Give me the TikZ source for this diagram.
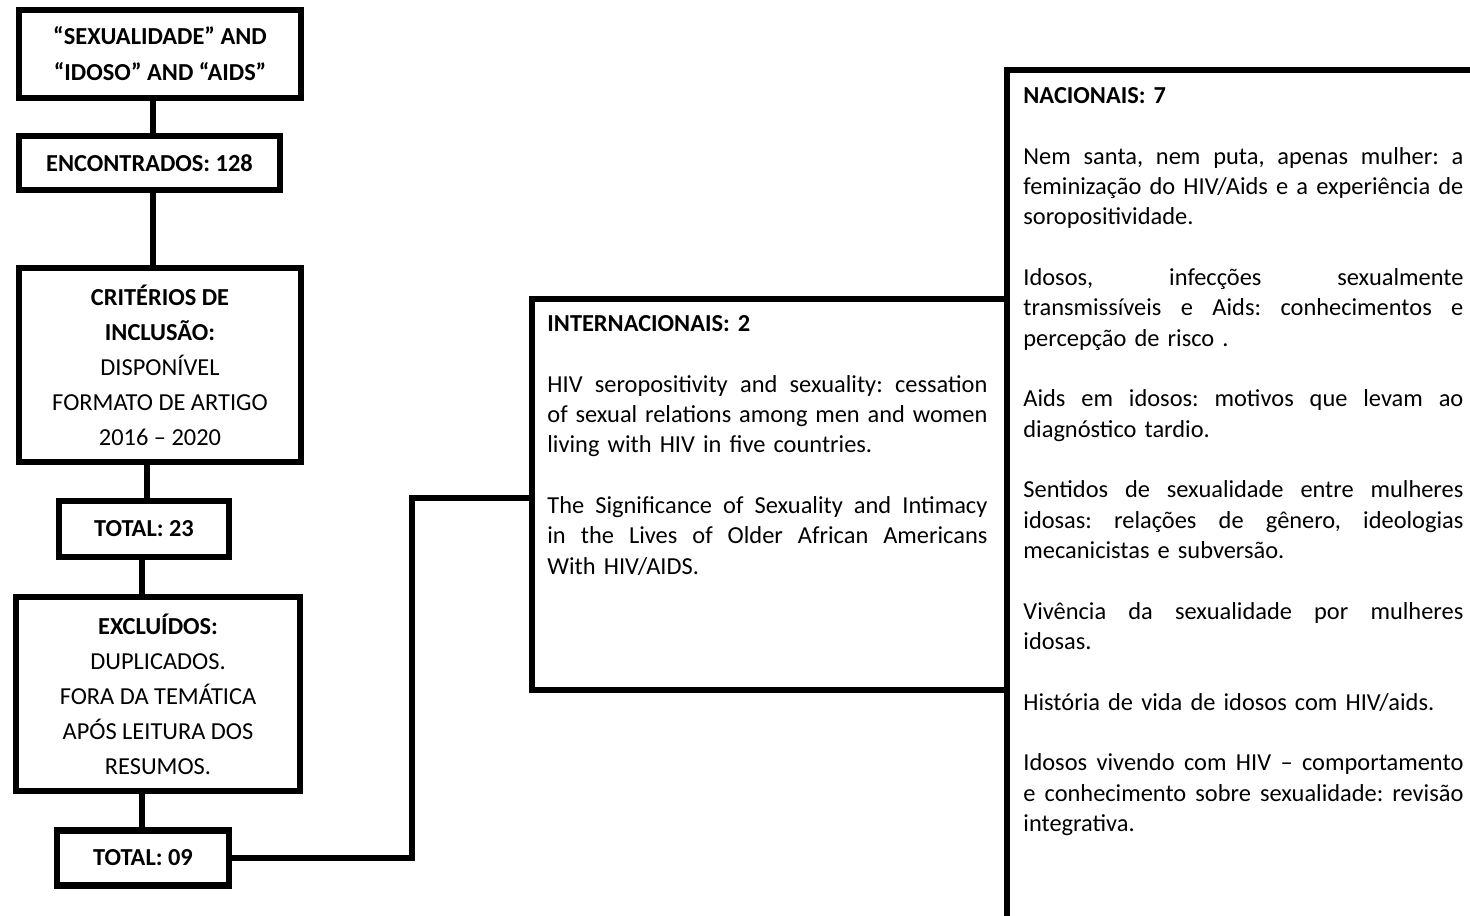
\documentclass[tikz,border=0pt]{standalone}
\usepackage{fontspec}
\setmainfont{Carlito}
\frenchspacing
\newcommand{\jline}[1]{\leavevmode\hbox to 220pt{\spaceskip=\fontdimen2\font plus 1fil\relax #1}}
\begin{document}
\begin{tikzpicture}[x=0.5pt,y=-0.5pt,
  boxline/.style={line width=3.2pt},
  flowbox/.style={draw,boxline,align=center,inner sep=0pt,
    font=\fontsize{12.2}{17.5}\selectfont},
  bigbox/.style={draw,boxline,anchor=north west,inner sep=0pt},
  bodytext/.style={anchor=north west,inner sep=0pt,text width=220pt,align=left,
    font=\fontsize{12.2}{15.17}\selectfont},
  conn/.style={boxline}]
\useasboundingbox (0,0) rectangle (1470,915);

\node[flowbox,minimum width=141.25pt,minimum height=44pt,
  font=\fontsize{12.2}{18}\selectfont] (b1) at (160,54)
  {\bfseries “SEXUALIDADE” AND\\\bfseries “IDOSO” AND “AIDS”};
\node[flowbox,minimum width=130.5pt,minimum height=26.75pt] (b2) at (149.5,163)
  {\bfseries ENCONTRADOS: 128};
\node[flowbox,minimum width=141.25pt,minimum height=96.75pt] (b3) at (160,365)
  {\bfseries CRITÉRIOS DE\\\bfseries INCLUSÃO:\\DISPONÍVEL\\FORMATO DE ARTIGO\\2016 – 2020};
\node[flowbox,minimum width=85pt,minimum height=28pt] (b4) at (144,529)
  {\bfseries TOTAL: 23};
\node[flowbox,minimum width=142pt,minimum height=97pt] (b5) at (158,694)
  {\bfseries EXCLUÍDOS:\\DUPLICADOS.\\FORA DA TEMÁTICA\\APÓS LEITURA DOS\\RESUMOS.};
\node[flowbox,minimum width=86pt,minimum height=27.5pt] (b6) at (143,858)
  {\bfseries TOTAL: 09};

\node[bigbox,minimum width=237.75pt,minimum height=195.25pt] (intl) at (528.5,296) {};
\node[bigbox,minimum width=250pt,minimum height=440pt] (nac) at (1004,67) {};

\node[bodytext] (intltext) at (547,315) {%
\textbf{INTERNACIONAIS: 2}\\[15.17pt]
\jline{HIV seropositivity and sexuality: cessation}\\
\jline{of sexual relations among men and women}\\
living with HIV in five countries.\\[15.17pt]
\jline{The Significance of Sexuality and Intimacy}\\
\jline{in the Lives of Older African Americans}\\
With HIV/AIDS.};

\node[bodytext] (nactext) at (1023,87) {%
\textbf{NACIONAIS: 7}\\[15.17pt]
\jline{Nem santa, nem puta, apenas mulher: a}\\
\jline{feminização do HIV/Aids e a experiência de}\\
soropositividade.\\[15.17pt]
\jline{Idosos, infecções sexualmente}\\
\jline{transmissíveis e Aids: conhecimentos e}\\
percepção de risco .\\[15.17pt]
\jline{Aids em idosos: motivos que levam ao}\\
diagnóstico tardio.\\[15.17pt]
\jline{Sentidos de sexualidade entre mulheres}\\
\jline{idosas: relações de gênero, ideologias}\\
mecanicistas e subversão.\\[15.17pt]
\jline{Vivência da sexualidade por mulheres}\\
idosas.\\[15.17pt]
História de vida de idosos com HIV/aids.\\[15.17pt]
\jline{Idosos vivendo com HIV – comportamento}\\
\jline{e conhecimento sobre sexualidade: revisão}\\
integrativa.};

\coordinate (x12) at (153,0);
\coordinate (x34) at (147,0);
\coordinate (x45) at (142,0);
\draw[conn] (b1.south -| x12) -- (b2.north -| x12);
\draw[conn] (b2.south -| x12) -- (b3.north -| x12);
\draw[conn] (b3.south -| x34) -- (b4.north -| x34);
\draw[conn] (b4.south -| x45) -- (b5.north -| x45);
\draw[conn] (b5.south -| x45) -- (b6.north -| x45);
\coordinate (elbow) at (412,498);
\draw[conn] (b6.east) -| (elbow) -- (elbow -| intl.west);
\end{tikzpicture}
\end{document}
